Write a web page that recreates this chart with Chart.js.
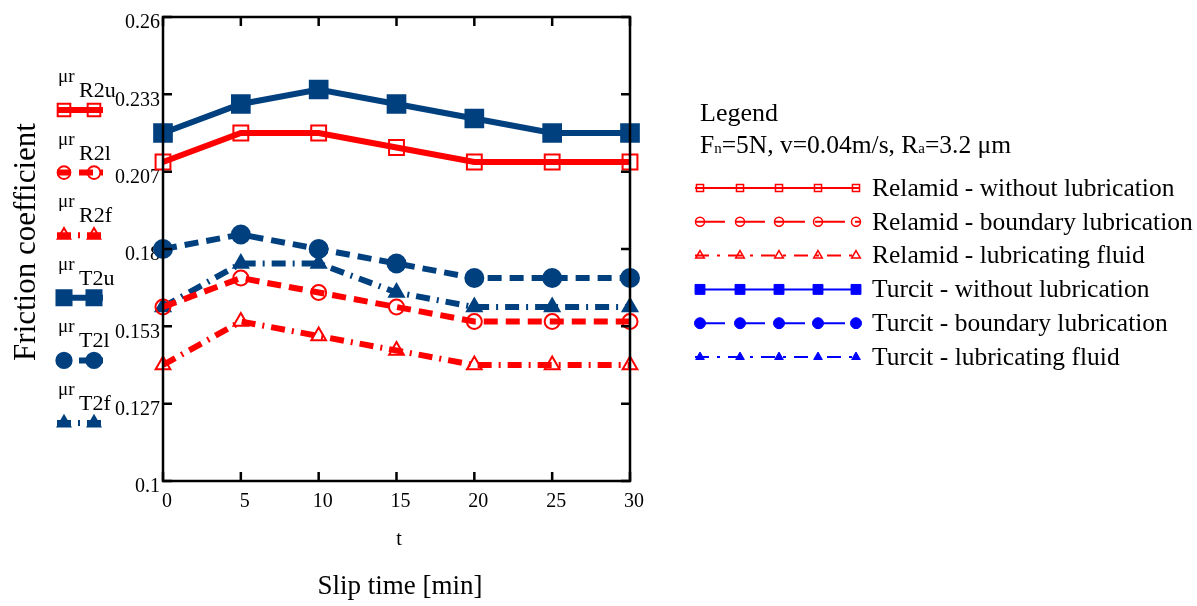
<!DOCTYPE html>
<html>
<head>
<meta charset="utf-8">
<script src="https://cdn.jsdelivr.net/npm/chart.js@4.4.1/dist/chart.umd.min.js"></script>
<style>
	body { margin: 0; background: #fff; }
	.chart-box { width: 1197px; height: 606px; position: relative; }
</style>
</head>
<body>
<div class="chart-box"><canvas id="frictionChart"></canvas></div>
<script>
// slip time, min
const slipTime = [0, 5, 10, 15, 20, 25, 30]

// friction coefficients
const r2u = [0.21, 0.22, 0.22, 0.215, 0.21, 0.21, 0.21]
const r2l = [0.16, 0.17, 0.165, 0.16, 0.155, 0.155, 0.155]
const r2f = [0.14, 0.155, 0.15, 0.145, 0.14, 0.14, 0.14]
const t2u = [0.22, 0.23, 0.235, 0.23, 0.225, 0.22, 0.22]
const t2l = [0.18, 0.185, 0.18, 0.175, 0.17, 0.17, 0.17]
const t2f = [0.16, 0.175, 0.175, 0.165, 0.16, 0.16, 0.16]

const yTickLabels = ['0.1', '0.127', '0.153', '0.18', '0.207', '0.233', '0.26']
const sideNames = ['R2u', 'R2l', 'R2f', 'T2u', 'T2l', 'T2f']
const legendNames = [
	'Relamid - without lubrication',
	'Relamid - boundary lubrication',
	'Relamid - lubricating fluid',
	'Turcit - without lubrication',
	'Turcit - boundary lubrication',
	'Turcit - lubricating fluid'
]

const RED = '#ff0000'
const NAVY = '#00407f'
const BLUE = '#0000ff'
const NONE = 'rgba(0,0,0,0)'
const FONT = '"Liberation Serif", "Times New Roman", serif'

const pts = arr => slipTime.map((t, i) => ({ x: t, y: arr[i] }))

function series(data, color, dash, style, radius, fill, legendDash) {
	return {
		data: pts(data),
		borderColor: color,
		borderWidth: 6,
		borderDash: dash,
		pointStyle: style,
		pointRadius: radius,
		pointBorderWidth: 2,
		pointBorderColor: color,
		pointBackgroundColor: fill,
		legendDash: legendDash,
		clip: false,
		tension: 0
	}
}

const datasets = [
	series(r2u, RED, [], 'rect', 10.5, NONE, []),
	series(r2l, RED, [14, 8], 'circle', 7.5, NONE, [30, 10]),
	series(r2f, RED, [14, 7, 2, 7], 'triangle', 8.5, NONE, [14, 8, 3, 8]),
	series(t2u, NAVY, [], 'rect', 12.5, NAVY, []),
	series(t2l, NAVY, [14, 8], 'circle', 9, NAVY, [30, 10]),
	series(t2f, NAVY, [14, 7, 2, 7], 'triangle', 8.5, NAVY, [14, 8, 3, 8])
]

function mark(ctx, style, r, x, y, color, fill, lw) {
	ctx.save()
	ctx.setLineDash([])
	ctx.strokeStyle = color
	ctx.fillStyle = fill
	ctx.lineWidth = lw
	Chart.helpers.drawPoint(ctx, { pointStyle: style, radius: r, rotation: 0, borderWidth: lw }, x, y)
	ctx.restore()
}

function hline(ctx, x1, x2, y, color, lw, dash) {
	ctx.save()
	ctx.strokeStyle = color
	ctx.lineWidth = lw
	ctx.setLineDash(dash)
	ctx.beginPath()
	ctx.moveTo(x1, y)
	ctx.lineTo(x2, y)
	ctx.stroke()
	ctx.restore()
}

// frame with inward ticks, axis titles
const framePlugin = {
	id: 'frame',
	afterDraw(chart) {
		const { ctx, chartArea: a, scales } = chart
		ctx.save()
		ctx.strokeStyle = '#000'
		ctx.lineWidth = 2.5
		ctx.strokeRect(a.left, a.top, a.right - a.left, a.bottom - a.top)
		ctx.beginPath()
		scales.x.ticks.forEach(t => {
			const x = scales.x.getPixelForValue(t.value)
			ctx.moveTo(x, a.bottom); ctx.lineTo(x, a.bottom - 9)
			ctx.moveTo(x, a.top); ctx.lineTo(x, a.top + 9)
		})
		scales.y.ticks.forEach(t => {
			const y = scales.y.getPixelForValue(t.value)
			ctx.moveTo(a.left, y); ctx.lineTo(a.left + 9, y)
			ctx.moveTo(a.right, y); ctx.lineTo(a.right - 9, y)
		})
		ctx.stroke()

		ctx.fillStyle = '#000'
		ctx.textAlign = 'center'
		ctx.textBaseline = 'middle'
		ctx.font = '20px ' + FONT
		ctx.fillText('t', 399, 540)
		ctx.font = '27px ' + FONT
		ctx.fillText('Slip time [min]', 400, 587)
		ctx.translate(27, 242)
		ctx.rotate(-Math.PI / 2)
		ctx.font = '31px ' + FONT
		ctx.fillText('Friction coefficient', 0, 0)
		ctx.restore()
	}
}

// little keys left of the y axis
const sideKeyPlugin = {
	id: 'sideKeys',
	afterDraw(chart) {
		const ctx = chart.ctx
		chart.data.datasets.forEach((ds, i) => {
			const ly = 110 + i * 62.6
			ctx.save()
			ctx.fillStyle = '#000'
			ctx.textBaseline = 'alphabetic'
			ctx.font = '19px ' + FONT
			ctx.fillText('\u03bcr', 58, ly - 28)
			ctx.font = '22px ' + FONT
			ctx.fillText(sideNames[i], 79, ly - 13)
			ctx.restore()
			hline(ctx, 57, 103, ly, ds.borderColor, 6, ds.borderDash)
			;[64, 94].forEach(x => mark(ctx, ds.pointStyle, ds.pointRadius * 0.85, x, ly, ds.borderColor, ds.pointBackgroundColor, 2))
		})
	}
}

// legend box on the right
const legendPlugin = {
	id: 'rightLegend',
	afterDraw(chart) {
		const ctx = chart.ctx
		ctx.save()
		ctx.fillStyle = '#000'
		ctx.textBaseline = 'alphabetic'
		ctx.font = '26px ' + FONT
		ctx.fillText('Legend', 700, 121)
		let x = 700
		const part = (txt, size) => {
			ctx.font = size + 'px ' + FONT
			ctx.fillText(txt, x, 153)
			x += ctx.measureText(txt).width
		}
		part('F', 25.5); part('n', 15); part('=5N, v=0.04m/s, R', 25.5); part('a', 15); part('=3.2 \u03bcm', 25.5)
		ctx.restore()

		chart.data.datasets.forEach((ds, i) => {
			const ly = 188 + i * 33.8
			const red = i < 3
			const col = red ? RED : BLUE
			hline(ctx, 695, 860, ly, col, 2, ds.legendDash)
			const r = ds.pointStyle === 'rect' ? (red ? 5 : 7) : (ds.pointStyle === 'circle' ? (red ? 4.5 : 5.5) : 5)
			;[700, 740, 779, 818, 856].forEach(x => mark(ctx, ds.pointStyle, r, x, ly, col, red ? NONE : col, red ? 1.5 : 1))
			ctx.save()
			ctx.fillStyle = '#000'
			ctx.font = '25.5px ' + FONT
			ctx.textBaseline = 'middle'
			ctx.fillText(legendNames[i], 872, ly + 1)
			ctx.restore()
		})
	}
}

const ctx = document.getElementById('frictionChart').getContext('2d')
const frictionChart = new Chart(ctx, {
	type: 'line',
	data: { datasets: datasets },
	options: {
		responsive: true,
		maintainAspectRatio: false,
		animation: false,
		layout: { padding: { left: 100, right: 567, top: 17, bottom: 0 } },
		plugins: { legend: { display: false }, tooltip: { enabled: false } },
		scales: {
			x: {
				type: 'linear',
				min: 0,
				max: 30,
				grid: { display: false, drawTicks: false },
				border: { display: false },
				afterFit: s => { s.height = 125 },
				ticks: {
					stepSize: 5,
					padding: 9,
					labelOffset: 4,
					color: '#000',
					font: { family: FONT, size: 20 }
				}
			},
			y: {
				min: 0.1,
				max: 0.26,
				grid: { display: false, drawTicks: false },
				border: { display: false },
				afterFit: s => { s.width = 63 },
				afterBuildTicks: s => {
					s.ticks = yTickLabels.map((l, i) => ({ value: 0.1 + i * 0.16 / 6 }))
				},
				ticks: {
					padding: 3,
					labelOffset: 6,
					color: '#000',
					font: { family: FONT, size: 20 },
					callback: (v, i) => yTickLabels[i]
				}
			}
		}
	},
	plugins: [framePlugin, sideKeyPlugin, legendPlugin]
})
</script>
</body>
</html>
